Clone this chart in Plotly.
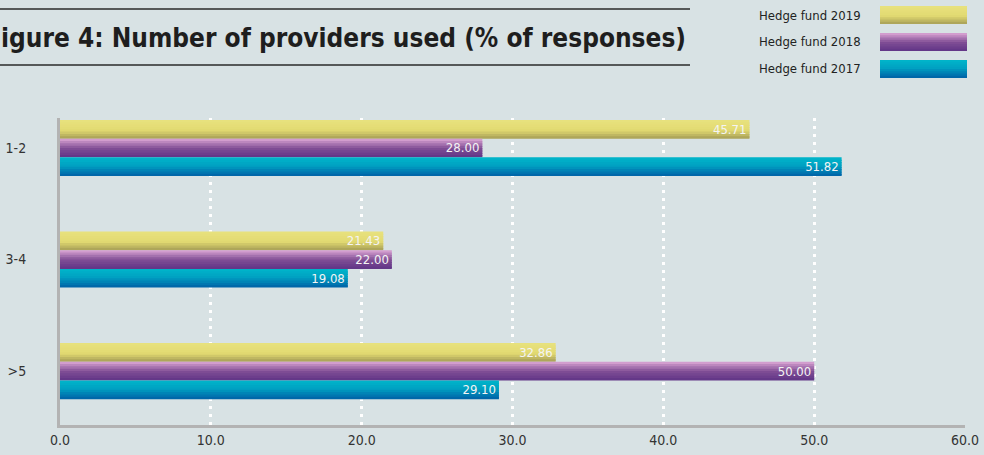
import plotly.graph_objects as go

# ---- data ----
categories = ["1-2", "3-4", ">5"]
series_names = ["Hedge fund 2019", "Hedge fund 2018", "Hedge fund 2017"]
values_2019 = [45.71, 21.43, 32.86]
values_2018 = [28.00, 22.00, 50.00]
values_2017 = [51.82, 19.08, 29.10]
x_ticks = [0, 10, 20, 30, 40, 50, 60]
x_tick_labels = ["0.0", "10.0", "20.0", "30.0", "40.0", "50.0", "60.0"]

series_values = [values_2019, values_2018, values_2017]

# ---- styles ----
FONT = "DejaVu Sans Condensed"
BG = "#d8e2e4"
gradients = [
    [(0.0, (232, 226, 126)), (0.55, (226, 218, 114)), (1.0, (166, 158, 86))],
    [(0.0, (222, 168, 214)), (0.5, (130, 80, 150)), (1.0, (96, 52, 134))],
    [(0.0, (0, 182, 202)), (0.45, (0, 160, 194)), (1.0, (0, 96, 166))],
]
N_SLICES = 8
BAR_W = 0.168


def interp(stops, t):
    for (t0, c0), (t1, c1) in zip(stops, stops[1:]):
        if t <= t1:
            f = 0 if t1 == t0 else (t - t0) / (t1 - t0)
            return "rgb(%d,%d,%d)" % tuple(round(a + (b - a) * f) for a, b in zip(c0, c1))
    return "rgb(%d,%d,%d)" % stops[-1][1]


fig = go.Figure()
group_start = -1.5 * BAR_W
for si, (name, vals) in enumerate(zip(series_names, series_values)):
    base_off = group_start + si * BAR_W
    sw = BAR_W / N_SLICES
    for k in range(N_SLICES):
        t = (k + 0.5) / N_SLICES
        w = sw * (1.6 if k < N_SLICES - 1 else 1.0)
        fig.add_trace(go.Bar(
            x=vals, y=categories, orientation="h",
            offset=base_off + k * sw, width=w,
            marker=dict(color=interp(gradients[si], t), line=dict(width=0)),
            showlegend=False, hoverinfo="skip",
        ))
    # label carrier
    fig.add_trace(go.Bar(
        x=vals, y=categories, orientation="h", name=name,
        offset=base_off, width=BAR_W,
        marker=dict(color="rgba(0,0,0,0)", line=dict(width=0)),
        text=["%.2f" % v for v in vals], textposition="inside",
        insidetextanchor="end", constraintext="none",
        textfont=dict(family=FONT, size=13, color="#f4f4f4"),
        showlegend=False,
    ))

L, R, T, B = 60, 19, 118, 30
W, H = 984, 455
pw, ph = W - L - R, H - T - B


def px(x):
    return (x - L) / pw


def py(y):
    return (H - B - y) / ph


# title + rules
fig.add_annotation(
    text="<b>Figure 4: Number of providers used (% of responses)</b>",
    xref="paper", yref="paper", x=px(688), y=py(38), xanchor="right", yanchor="middle",
    showarrow=False, font=dict(family=FONT, size=26, color="#1e1e1e"),
)
for yy in (9, 65):
    fig.add_shape(type="line", xref="paper", yref="paper",
                  x0=px(-5), x1=px(690), y0=py(yy), y1=py(yy),
                  line=dict(color="#2a2a2a", width=1.5))

# legend
for si, name in enumerate(series_names):
    yc = 15 + si * 27
    fig.add_annotation(text=name, xref="paper", yref="paper", x=px(863), y=py(yc),
                       xanchor="right", yanchor="middle", showarrow=False,
                       font=dict(family=FONT, size=13, color="#222"))
    top, bot = yc - 9, yc + 9
    n = 8
    for k in range(n):
        y0 = top + (bot - top) * k / n
        y1 = top + (bot - top) * (k + 1) / n
        fig.add_shape(type="rect", xref="paper", yref="paper",
                      x0=px(880), x1=px(967), y0=py(y0), y1=py(min(y1 + 1, bot)),
                      fillcolor=interp(gradients[si], (k + 0.5) / n), line=dict(width=0))

fig.update_layout(
    width=W, height=H,
    margin=dict(l=L, r=R, t=T, b=B, autoexpand=False),
    paper_bgcolor=BG, plot_bgcolor=BG,
    barmode="overlay",
    showlegend=False,
    font=dict(family=FONT, size=14, color="#333"),
    xaxis=dict(
        range=[0, 60], tickvals=x_ticks, ticktext=x_tick_labels,
        showgrid=True, gridcolor="white", gridwidth=3, griddash="3px,5px",
        showline=True, linecolor="#b3b3b3", linewidth=3,
        zeroline=False, ticks="", automargin=False,
        tickfont=dict(family=FONT, size=14, color="#333"),
    ),
    yaxis=dict(
        categoryorder="array", categoryarray=categories,
        range=[2.484, -0.269],
        showgrid=False, zeroline=False, automargin=False,
        showline=True, linecolor="#b3b3b3", linewidth=3,
        ticks="outside", ticklen=28, tickcolor="rgba(0,0,0,0)",
        tickfont=dict(family=FONT, size=14, color="#333"),
    ),
)

fig.write_html("out.html", config={"displayModeBar": False},
               post_script="document.body.style.margin='0';")
